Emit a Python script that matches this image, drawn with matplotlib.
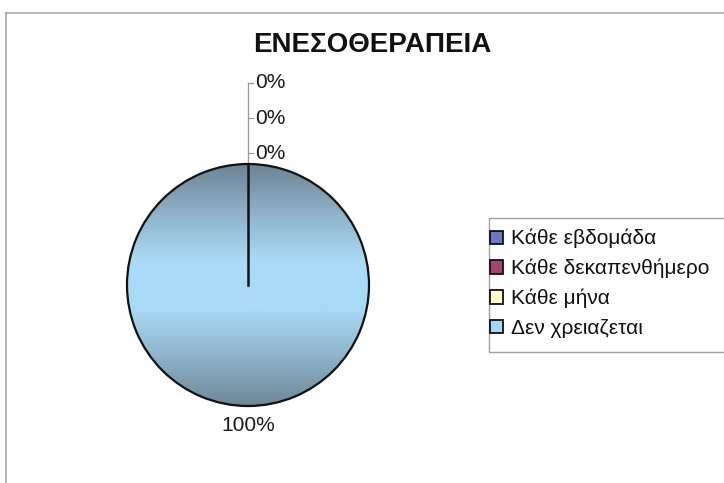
import numpy as np
import matplotlib
matplotlib.use("Agg")
import matplotlib.pyplot as plt
from matplotlib.patches import Patch, Rectangle
from matplotlib.lines import Line2D
from matplotlib.colors import LinearSegmentedColormap

plt.rcParams['font.family'] = ['Liberation Sans', 'DejaVu Sans']

title = "ΕΝΕΣΟΘΕΡΑΠΕΙΑ"
categories = ["Κάθε εβδομάδα", "Κάθε δεκαπενθήμερο", "Κάθε μήνα", "Δεν χρειαζεται"]
values = [0, 0, 0, 100]
colors = ["#6A78C8", "#A24470", "#FFFFD2", "#A8D6F2"]

W, H = 724, 483
fig = plt.figure(figsize=(W / 100, H / 100), dpi=100)
fig.patch.set_facecolor("#FDFEFD")

# chart area border (left and top edges visible)
fig.add_artist(Line2D([6 / W, 6 / W], [0, 1 - 13 / H], color="#A8A8A8", lw=1.2))
fig.add_artist(Line2D([6 / W, 1], [1 - 13 / H, 1 - 13 / H], color="#A8A8A8", lw=1.2))

fig.text(372 / W, 1 - 45 / H, title, ha="center", va="center",
         fontsize=20, fontweight="bold", color="#111111")

cx, cy, r = 248, 285, 121
ax = fig.add_axes([(cx - r) / W, 1 - (cy + r) / H, 2 * r / W, 2 * r / H])
wedges, _ = ax.pie(values, colors=colors, startangle=90, counterclock=False,
                   wedgeprops=dict(edgecolor="#111111", linewidth=1.6))
ax.set_xlim(-1, 1)
ax.set_ylim(-1, 1)
ax.set_aspect("equal")
ax.axis("off")

# shaded fill for the dominant slice
main = int(np.argmax(values))
cmap = LinearSegmentedColormap.from_list(
    "shade", ["#6C8292", "#8EB0C8", "#A9DAF6", "#A9DAF6", "#8FB2C9", "#6E8697"])
grad = np.linspace(0, 1, 256).reshape(-1, 1)
im = ax.imshow(grad, cmap=cmap, extent=(-1, 1, -1, 1), origin="upper",
               aspect="auto", zorder=2)
im.set_clip_path(wedges[main])
wedges[main].set_facecolor("none")
wedges[main].set_zorder(3)

# radial edge where the empty slices sit
edge = np.deg2rad(wedges[main].theta1)
ax.plot([0, np.cos(edge)], [0, np.sin(edge)], color="#111111", lw=1.8, zorder=4)

# percentage labels
total = sum(values)
zero_i = 0
lead_top = None
for i, (w, v) in enumerate(zip(wedges, values)):
    pct = "%d%%" % round(100 * v / total)
    if v == 0:
        ang = np.deg2rad((w.theta1 + w.theta2) / 2)
        x0, y0 = np.cos(ang), np.sin(ang)
        ly = y0 + 0.09 + 0.29 * (2 - zero_i)
        ax.annotate(pct, xy=(x0, y0), xytext=(x0 + 0.06, ly),
                    ha="left", va="center", fontsize=15, color="#1A1A1A",
                    annotation_clip=False)
        ax.add_line(Line2D([x0, x0 + 0.04], [ly, ly], color="#999999", lw=0.9,
                           clip_on=False))
        lead_top = max(lead_top or ly, ly)
        zero_i += 1
    else:
        ax.text(0, -1.16, pct, ha="center", va="center", fontsize=15,
                color="#1A1A1A", clip_on=False)
if lead_top is not None:
    ax.add_line(Line2D([0, 0], [1.0, lead_top], color="#999999", lw=0.9,
                       clip_on=False))

# legend
fig.add_artist(Rectangle((489 / W, 1 - 352 / H), 1, 134 / H, transform=fig.transFigure,
                         facecolor="none", edgecolor="#A0A0A0", lw=1.0))
handles = [Patch(facecolor=c, edgecolor="#111111", linewidth=1.3) for c in colors]
fig.legend(handles, categories, loc="upper left", bbox_to_anchor=(490 / W, 1 - 229 / H),
           frameon=False, fontsize=15, handlelength=0.6, handleheight=0.6,
           handletextpad=0.4, labelspacing=0.5, borderaxespad=0, borderpad=0,
           labelcolor="#111111")

fig.savefig("out.png", dpi=100, facecolor=fig.get_facecolor())
